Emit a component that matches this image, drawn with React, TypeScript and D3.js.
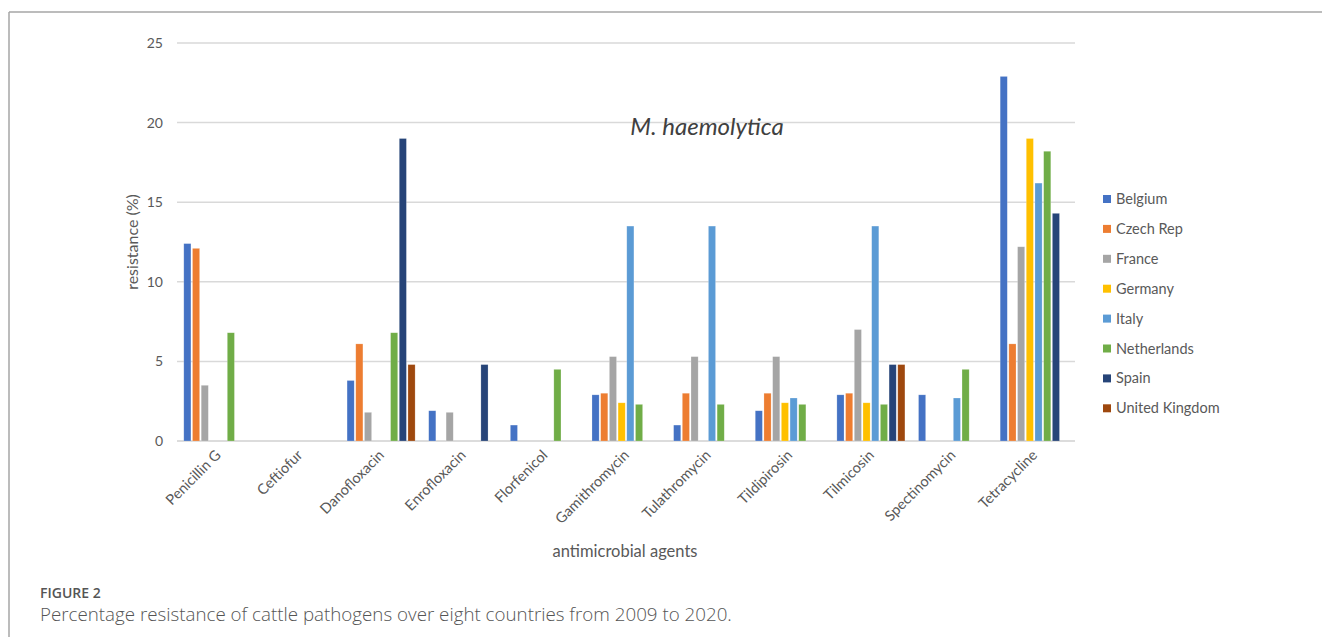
import React from "react";
import * as d3 from "d3";

const categories = [
  "Penicillin G",
  "Ceftiofur",
  "Danofloxacin",
  "Enrofloxacin",
  "Florfenicol",
  "Gamithromycin",
  "Tulathromycin",
  "Tildipirosin",
  "Tilmicosin",
  "Spectinomycin",
  "Tetracycline",
];

const countries = [
  "Belgium",
  "Czech Rep",
  "France",
  "Germany",
  "Italy",
  "Netherlands",
  "Spain",
  "United Kingdom",
];

const colors = ["#4472C4", "#ED7D31", "#A5A5A5", "#FFC000", "#5B9BD5", "#70AD47", "#264478", "#9E480E"];

// values per country, ordered like categories (null = no bar)
const belgium = [12.4, null, 3.8, 1.9, 1.0, 2.9, 1.0, 1.9, 2.9, 2.9, 22.9];
const czechRep = [12.1, null, 6.1, null, null, 3.0, 3.0, 3.0, 3.0, null, 6.1];
const france = [3.5, null, 1.8, 1.8, null, 5.3, 5.3, 5.3, 7.0, null, 12.2];
const germany = [null, null, null, null, null, 2.4, null, 2.4, 2.4, null, 19.0];
const italy = [null, null, null, null, null, 13.5, 13.5, 2.7, 13.5, 2.7, 16.2];
const netherlands = [6.8, null, 6.8, null, 4.5, 2.3, 2.3, 2.3, 2.3, 4.5, 18.2];
const spain = [null, null, 19.0, 4.8, null, null, null, null, 4.8, null, 14.3];
const unitedKingdom = [null, null, 4.8, null, null, null, null, null, 4.8, null, null];

const seriesValues = [belgium, czechRep, france, germany, italy, netherlands, spain, unitedKingdom];

const yTicks = [0, 5, 10, 15, 20, 25];

const W = 1322;
const H = 637;
const plotLeft = 177;
const plotRight = 1075;
const plotTop = 43;
const plotBottom = 441;

export default function App() {
  const x = d3.scaleBand<string>().domain(categories).range([plotLeft, plotRight]);
  const bw = x.bandwidth();
  const inner = d3
    .scaleBand<string>()
    .domain(countries)
    .range([bw * 0.078, bw * 0.922])
    .paddingInner(0.18)
    .paddingOuter(0.05);
  const y = d3.scaleLinear().domain([0, 25]).range([plotBottom, plotTop]);

  const textColor = "#595959";
  const font = "Lato, 'Open Sans', sans-serif";

  return (
    <svg
      width={W}
      height={H}
      style={{ position: "absolute", left: 0, top: 0, background: "#fff" }}
      fontFamily={font}
    >
      {/* figure frame */}
      <line x1={9} y1={12} x2={W} y2={12} stroke="#a6a6a6" strokeWidth={1.5} />
      <line x1={9} y1={12} x2={9} y2={H} stroke="#a6a6a6" strokeWidth={1.5} />

      {/* gridlines */}
      {yTicks.map((t) => (
        <g key={t}>
          <line
            x1={plotLeft}
            x2={plotRight}
            y1={y(t)}
            y2={y(t)}
            stroke={t === 0 ? "#d0d0d0" : "#d9d9d9"}
            strokeWidth={1.5}
          />
          <text x={163} y={y(t)} dy="0.35em" textAnchor="end" fontSize={14} fill={textColor}>
            {t}
          </text>
        </g>
      ))}

      {/* bars */}
      {countries.map((c, si) => (
        <g key={c} fill={colors[si]}>
          {categories.map((cat, ci) => {
            const v = seriesValues[si][ci];
            if (v == null) return null;
            return (
              <rect
                key={cat}
                x={(x(cat) as number) + (inner(c) as number)}
                y={y(v)}
                width={inner.bandwidth()}
                height={y(0) - y(v)}
                stroke="#ffffff"
                strokeOpacity={0.35}
                strokeWidth={0.6}
              />
            );
          })}
        </g>
      ))}

      {/* x category labels */}
      {categories.map((cat) => {
        const cx = (x(cat) as number) + bw / 2 + 4;
        const cy = 456;
        return (
          <text
            key={cat}
            transform={`translate(${cx},${cy}) rotate(-45)`}
            textAnchor="end"
            fontSize={14.5}
            fill={textColor}
          >
            {cat}
          </text>
        );
      })}

      {/* axis titles */}
      <text
        transform={`translate(138,${(plotTop + plotBottom) / 2}) rotate(-90)`}
        textAnchor="middle"
        fontSize={16}
        fill={textColor}
      >
        resistance (%)
      </text>
      <text x={625} y={557} textAnchor="middle" fontSize={16.5} fill={textColor}>
        antimicrobial agents
      </text>

      {/* chart title */}
      <text x={707} y={135} textAnchor="middle" fontSize={24} fontStyle="italic" fill="#404040">
        M. haemolytica
      </text>

      {/* legend */}
      {countries.map((c, i) => (
        <g key={c} transform={`translate(1103,${199 + i * 29.9})`}>
          <rect x={0} y={-4} width={8} height={8} fill={colors[i]} />
          <text x={13} y={0} dy="0.35em" fontSize={14.5} fill={textColor}>
            {c}
          </text>
        </g>
      ))}

      {/* caption */}
      <text x={40} y={598} fontSize={14} fill="#555" fontFamily="'Open Sans', sans-serif" fontWeight={600}>
        FIGURE 2
      </text>
      <text x={40} y={621} fontSize={18.75} fill="#555" fontFamily="'Open Sans', sans-serif" fontWeight={300}>
        Percentage resistance of cattle pathogens over eight countries from 2009 to 2020.
      </text>
    </svg>
  );
}
